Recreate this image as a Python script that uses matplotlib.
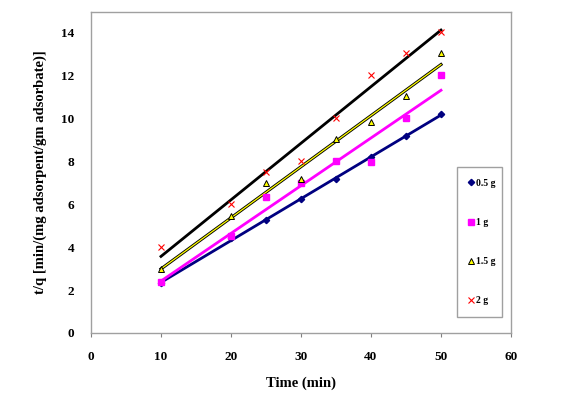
import numpy as np
import matplotlib
matplotlib.use("Agg")
import matplotlib.pyplot as plt

plt.rcParams['font.family'] = ['Liberation Serif', 'DejaVu Serif']
plt.rcParams['font.weight'] = 'bold'

time_min = [10, 20, 25, 30, 35, 40, 45, 50]
labels = ["0.5 g", "1 g", "1.5 g", "2 g"]
tq_05 = [2.32, 4.42, 5.27, 6.25, 7.19, 8.21, 9.19, 10.2]
tq_1 = [2.37, 4.53, 6.35, 7.0, 8.01, 8.0, 10.02, 12.05]
tq_15 = [3.0, 5.47, 7.01, 7.2, 9.04, 9.83, 11.04, 13.05]
tq_2 = [4.01, 6.03, 7.53, 8.03, 10.03, 12.05, 13.05, 14.06]
x_ticks = [0, 10, 20, 30, 40, 50, 60]
y_ticks = [0, 2, 4, 6, 8, 10, 12, 14]

fig = plt.figure(figsize=(5.70, 3.93), dpi=100)
ax = fig.add_axes([0.1596, 0.1527, 0.7369, 0.818])

series = [
    (tq_05, dict(marker='D', color='#000080', mfc='#000080', mec='#000080', ms=3.2), '#000080'),
    (tq_1, dict(marker='s', color='#FF00FF', mfc='#FF00FF', mec='#FF00FF', ms=4.3), '#FF00FF'),
    (tq_15, dict(marker='^', color='#FFFF00', mfc='#FFFF00', mec='black', mew=0.7, ms=4.3), '#FFFF00'),
    (tq_2, dict(marker='x', color='#FF0000', mfc='none', mec='#FF0000', mew=0.8, ms=4.8), 'black'),
]

x = np.array(time_min, dtype=float)
handles = []
for (vals, mk, lc), lab in zip(series, labels):
    m, b = np.polyfit(x, np.array(vals), 1)
    xs = np.array([x.min(), x.max()])
    if lab == "1.5 g":
        ax.plot(xs, m * xs + b, color='black', lw=2.2, zorder=2)
        ax.plot(xs, m * xs + b, color=lc, lw=0.9, zorder=2.1)
    else:
        ax.plot(xs, m * xs + b, color=lc, lw=2.0, zorder=2)
    h, = ax.plot(x, vals, linestyle='none', zorder=3, label=lab, **mk)
    handles.append(h)

ax.set_xlim(0, 60)
ax.set_ylim(0, 15)
ax.set_xticks(x_ticks)
ax.set_yticks(y_ticks)
ax.tick_params(axis='both', labelsize=9.5, length=3, color='#808080', direction='out')
ax.tick_params(axis='y', length=0, pad=12)
ax.tick_params(axis='x', pad=10)
for lbl in ax.get_xticklabels() + ax.get_yticklabels():
    lbl.set_fontweight('bold')
for s in ax.spines.values():
    s.set_color('#A0A0A0')
    s.set_linewidth(1.0)

ax.set_xlabel('Time (min)', fontsize=10.5, fontweight='bold', labelpad=10)
ax.set_ylabel('t/q [min/(mg adsorpent/gm adsorbate)]', fontsize=10.5, fontweight='bold', labelpad=10)

leg = ax.legend(handles=handles, loc='lower left', bbox_to_anchor=(0.871, 0.05, 0.108, 0.494),
                mode='expand', borderaxespad=0, labelspacing=3.1,
                handlelength=0.6, handletextpad=0.2, borderpad=1.2, fancybox=False,
                edgecolor='#A0A0A0', framealpha=1, prop={'weight': 'bold', 'size': 7})
leg.get_frame().set_linewidth(1.0)

fig.savefig('out.png', dpi=100)
